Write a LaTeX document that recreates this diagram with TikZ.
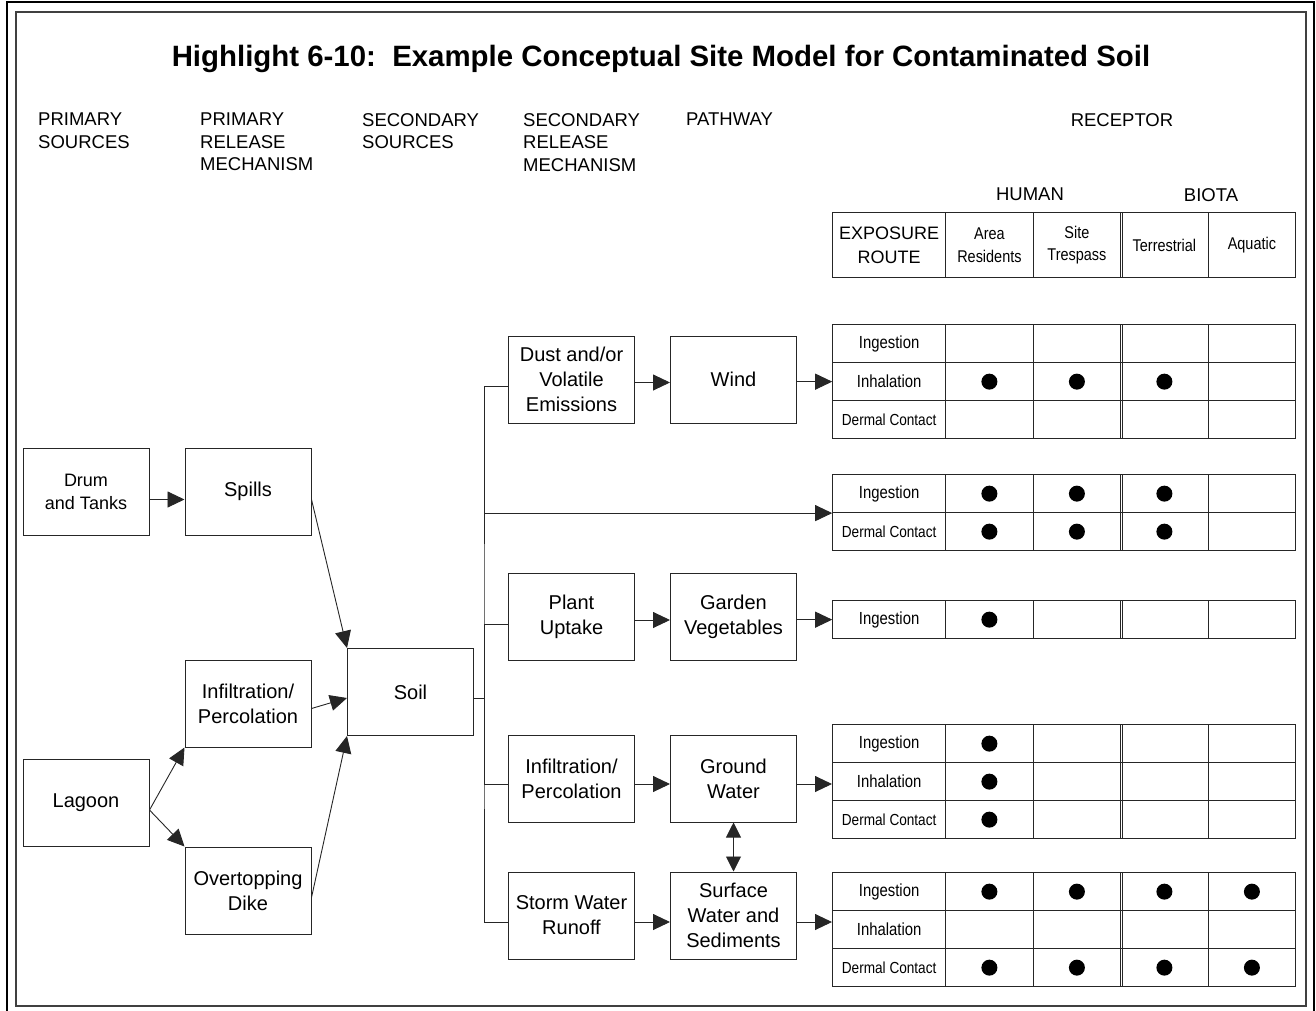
\documentclass[tikz,border=0pt]{standalone}
\usepackage{fontspec}
\setmainfont{Liberation Sans}
\newfontfamily\narrowfont[FakeStretch=0.85]{Liberation Sans}
\usepackage{tikz}
\usetikzlibrary{matrix,arrows.meta}

\tikzset{
  box/.style={draw=black!85, line width=1pt, minimum width=126pt, minimum height=87pt,
    align=center, inner sep=1pt, font=\fontsize{20}{25}\selectfont},
  head/.style={anchor=north west, align=left, inner sep=0pt, font=\fontsize{18.5}{22.5}\selectfont},
  link/.style={line width=0.9pt, black!85},
  arr/.style={-{Triangle[length=17pt,width=16pt]}},
  routes/.style={matrix of nodes, nodes in empty cells, anchor=north west, inner sep=0pt,
    column sep=-0.9pt, row sep=-0.9pt,
    nodes={draw=black!85, line width=0.9pt, minimum width=87.5pt, minimum height=38pt,
      inner sep=0pt, anchor=center, font=\narrowfont\fontsize{17.5}{20}\selectfont},
    column 1/.style={nodes={minimum width=113pt}}},
  dc/.style={font=\narrowfont\fontsize{16}{20}\selectfont}
}

\begin{document}
\begin{tikzpicture}[x=1pt, y=-1pt]
 \useasboundingbox (0,0) rectangle (1316,1011);
 % frames
 \draw[line width=1.2pt] (7,1012) -- (7,2) -- (1314,2) -- (1314,1012);
 \draw[line width=1.5pt, black!75] (16,12) rectangle (1306,1006);

 \node[font=\bfseries\fontsize{29.4}{34}\selectfont] (title) at (661,59)
   {Highlight 6-10:\ \ Example Conceptual Site Model for Contaminated Soil};

 % column heads
 \node[head] (h1) at (38,113) {PRIMARY\\SOURCES};
 \node[head] (h2) at (200,113) {PRIMARY\\RELEASE\\MECHANISM};
 \node[head] (h3) at (362,113) {SECONDARY\\SOURCES};
 \node[head] (h4) at (523,113) {SECONDARY\\RELEASE\\MECHANISM};
 \node[head] (h5) at (686,113) {PATHWAY};
 \node[head, anchor=north] (h6) at (1122,113) {RECEPTOR};
 \node[head, anchor=north] (human) at (1030,188) {HUMAN};
 \node[head, anchor=north] (biota) at (1211,188) {BIOTA};

 % sources and release
 \node[box, font=\fontsize{18}{23}\selectfont] (drum) at (86,491.5) {Drum\\and Tanks};
 \node[box] (spills) at (248,491.5) {Spills};
 \node[box] (infil) at (248,703.5) {Infiltration/\\Percolation};
 \node[box] (lagoon) at (86,803) {Lagoon};
 \node[box] (dike) at (248,890.5) {Overtopping\\Dike};
 \node[box] (soil) at (410.5,692) {Soil};
 \node[box] (dust) at (571.5,379.5) {Dust and/or\\Volatile\\Emissions};
 \node[box] (plant) at (571.5,617) {Plant\\Uptake};
 \node[box] (infiltwo) at (571.5,778.5) {Infiltration/\\Percolation};
 \node[box] (storm) at (571.5,915.5) {Storm Water\\Runoff};
 \node[box] (wind) at (733.5,379.5) {Wind};
 \node[box] (garden) at (733.5,617) {Garden\\Vegetables};
 \node[box] (ground) at (733.5,778.5) {Ground\\Water};
 \node[box] (surface) at (733.5,915.5) {Surface\\Water and\\Sediments};

 % receptor tables
 \matrix (th) [routes, nodes={minimum height=65pt, align=center, text width=75pt,
   font=\narrowfont\fontsize{17}{22.5}\selectfont},
   column 1/.style={nodes={minimum width=113pt, text width=105pt, font=\fontsize{18}{24}\selectfont}}]
   at (832,212) {
   EXPOSURE ROUTE & Area Residents & Site Trespass & Terrestrial & Aquatic \\
 };
 \matrix (tw) [routes, row 3 column 1/.style={nodes={dc}}] at (832,324) {
   Ingestion & & & & \\
   Inhalation & & & & \\
   Dermal Contact & & & & \\
 };
 \matrix (ts) [routes, row 2 column 1/.style={nodes={dc}}] at (832,474) {
   Ingestion & & & & \\
   Dermal Contact & & & & \\
 };
 \matrix (tg) [routes] at (832,600) {
   Ingestion & & & & \\
 };
 \matrix (tgw) [routes, row 3 column 1/.style={nodes={dc}}] at (832,724) {
   Ingestion & & & & \\
   Inhalation & & & & \\
   Dermal Contact & & & & \\
 };
 \matrix (tsw) [routes, row 3 column 1/.style={nodes={dc}}] at (832,872) {
   Ingestion & & & & \\
   Inhalation & & & & \\
   Dermal Contact & & & & \\
 };
 \foreach \t/\n in {th/1,tw/3,ts/2,tg/1,tgw/3,tsw/3}
   \draw[link] ([xshift=2.5pt]\t-1-4.north west) -- ([xshift=2.5pt]\t-\n-4.south west);
 % exposure marks
 \foreach \c in {tw-2-2,tw-2-3,tw-2-4,ts-1-2,ts-1-3,ts-1-4,ts-2-2,ts-2-3,ts-2-4,tg-1-2,
   tgw-1-2,tgw-2-2,tgw-3-2,tsw-1-2,tsw-1-3,tsw-1-4,tsw-1-5,tsw-3-2,tsw-3-3,tsw-3-4,tsw-3-5}
   \fill (\c) circle (8pt);

 % connectors
 \coordinate (trunk) at (484,698);
 \draw[link,arr] ([yshift=-8pt]drum.east) -- ([yshift=-8pt]spills.west);
 \draw[link,arr] ([yshift=-8pt]spills.east) -- (soil.north west);
 \draw[link,arr] ([yshift=-5pt]infil.east) -- ([yshift=-6pt]soil.west);
 \draw[link,arr] ([yshift=-7pt]dike.east) -- (soil.south west);
 \draw[link,arr] ([yshift=-7pt]lagoon.east) -- (infil.south west);
 \draw[link,arr] ([yshift=-7pt]lagoon.east) -- (dike.north west);
 \draw[link] ([yshift=-6pt]soil.east) -- (trunk);
 \draw[link] ([yshift=-7pt]dust.west) -| (trunk) |- ([yshift=-6.5pt]storm.west);
 \draw[link] ([yshift=-7pt]plant.west) -| (trunk);
 \draw[link] ([yshift=-5.5pt]infiltwo.west) -| (trunk);
 \draw[link,arr] (trunk |- ts-1-1.south west) -- (ts-1-1.south west);
 \draw[link,arr] ([yshift=-3pt]dust.east) -- ([yshift=-3pt]wind.west);
 \draw[link,arr] (wind.east |- tw-2-1.west) -- (tw-2-1.west);
 \draw[link,arr] ([yshift=-3pt]plant.east) -- ([yshift=-3pt]garden.west);
 \draw[link,arr] (garden.east |- tg-1-1.west) -- (tg-1-1.west);
 \draw[link,arr] ([yshift=-5.5pt]infiltwo.east) -- ([yshift=-5.5pt]ground.west);
 \draw[link,arr] ([yshift=-5.5pt]ground.east) -- ([yshift=-5.5pt]ground.east -| tgw.west);
 \draw[link,arr] ([yshift=-6.5pt]storm.east) -- ([yshift=-6.5pt]surface.west);
 \draw[link,arr] ([yshift=-6.5pt]surface.east) -- ([yshift=-6.5pt]surface.east -| tsw.west);
 \draw[link,{Triangle[length=15pt,width=15pt]}-{Triangle[length=15pt,width=15pt]}]
   (ground.south) -- (surface.north);
\end{tikzpicture}
\end{document}
